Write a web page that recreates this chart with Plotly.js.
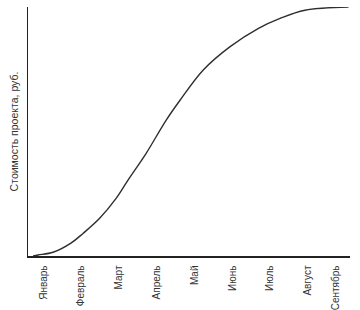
<!DOCTYPE html>
<html>
<head>
<meta charset="utf-8">
<script src="https://cdn.plot.ly/plotly-3.0.1.min.js"></script>
<style>html,body{margin:0;padding:0;background:#fff;}#chart{width:360px;height:310px;}</style>
</head>
<body>
<div id="chart"></div>
<script>
var months = ["Январь","Февраль","Март","Апрель","Май","Июнь","Июль","Август","Сентябрь"];
var monthTickPos = [0,1,2,3,4,5,6,7,7.72];
var curveX = [-0.27,-0.14,0.26,0.74,1.05,1.49,1.93,2.24,2.72,3.25,3.62,4.23,4.94,5.69,6.26,6.92,8.07];
var curveY = [0,0.4,1.5,5.3,9.1,15.2,23.3,30.6,41.4,54.8,62.9,75.0,84.4,91.8,95.8,99.1,100.4];

var trace = {
  x: curveX, y: curveY, type: 'scatter', mode: 'lines',
  line: {color: '#2e2e2e', width: 1.4, shape: 'spline', smoothing: 1},
  hoverinfo: 'skip'
};
var layout = {
  width: 360, height: 310,
  margin: {l: 28, r: 10, t: 7, b: 54},
  paper_bgcolor: '#fff', plot_bgcolor: '#fff',
  showlegend: false,
  font: {family: 'Liberation Sans, Arial, sans-serif', color: '#333', size: 10},
  xaxis: {
    range: [-0.405, 8.11], tickvals: monthTickPos, ticktext: months,
    tickangle: -90, showgrid: false, zeroline: false,
    showline: true, linecolor: '#222', linewidth: 1.5,
    ticks: '', ticklabelstandoff: 4, automargin: false,
    tickfont: {size: 10, color: '#333'}
  },
  yaxis: {
    range: [0, 100.4], showticklabels: false, showgrid: false, zeroline: false,
    showline: true, linecolor: '#222', linewidth: 1.5, ticks: '',
    automargin: false,
    title: {text: 'Стоимость проекта, руб.', font: {size: 10.5, color: '#333'}, standoff: 6}
  }
};
Plotly.newPlot('chart', [trace], layout, {staticPlot: true, displayModeBar: false});
</script>
</body>
</html>
